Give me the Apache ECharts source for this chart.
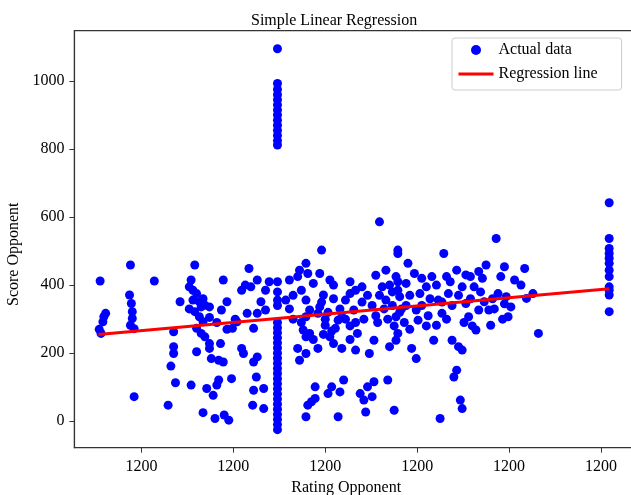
<!DOCTYPE html>
<html>
<head>
<meta charset="utf-8">
<script src="https://cdn.jsdelivr.net/npm/echarts@6/dist/echarts.min.js"></script>
<style>html,body{margin:0;padding:0;background:#fff}#c{width:631px;height:495px}</style>
</head>
<body>
<div id="c"></div>
<script>
// Tick positions (x in tick units) and their printed labels
const xTickValues = [0, 1, 2, 3, 4, 5];
const xTickLabels = ['1200', '1200', '1200', '1200', '1200', '1200'];
const yTickValues = [0, 200, 400, 600, 800, 1000];

// Scatter points [rating (tick units), score]
const leftPts = [
  [-0.45,412],[-0.46,270],[-0.44,258],[-0.42,292],[-0.41,307],[-0.39,317],
  [-0.12,459],[-0.13,371],[-0.11,346],[-0.10,322],[-0.10,302],[-0.12,282],[-0.08,272],[-0.08,72],
  [0.14,412],[0.29,47],[0.35,263],[0.35,219],[0.35,199],[0.32,162],[0.37,113],[0.42,351]
];
const clusterPts = [
  [0.54,415],[0.52,395],[0.58,459],[0.56,385],[0.60,375],[0.56,356],[0.63,351],[0.65,336],[0.69,341],
  [0.74,336],[0.58,322],[0.63,307],[0.67,292],[0.60,273],[0.65,258],[0.69,248],[0.74,228],[0.60,204],
  [0.54,106],[0.67,25],[0.71,96],[0.74,214],[0.76,184],[0.78,76],[0.80,8],[0.82,106],[0.84,121],
  [0.86,228],[0.84,179],[0.89,174],[0.87,327],[0.89,415],[0.93,351],[0.90,18],[0.95,3],[0.98,125],
  [0.99,273],[1.04,292],[1.09,385],[1.13,400],[1.17,449],[1.19,395],[1.09,214],[1.11,199],[1.15,317],
  [1.22,273],[1.26,415],[1.22,174],[1.26,189],[1.25,130],[1.22,91],[1.21,47],[1.33,37],[1.33,96],
  [1.30,351],[1.35,385],[1.39,410],[1.26,317],[1.35,327],[0.52,330],[0.67,360],[0.74,305],[0.82,290],
  [0.93,270],[1.02,300]
];
const columnX = 1.48;
const columnY = [-25,-10,5,20,35,50,65,80,95,110,125,140,155,170,185,200,215,230,245,260,275,290,
  340,356,380,410,812,825,840,855,870,885,900,915,930,945,960,975,993,1095];
const middlePts = [
  [1.57,356],[1.61,415],[1.70,425],[1.72,444],[1.79,464],[1.81,434],[1.74,385],[1.79,356],[1.83,327],
  [1.87,405],[1.79,307],[1.76,268],[1.83,258],[1.79,248],[1.70,214],[1.72,179],[1.79,199],[1.79,13],
  [1.81,47],[1.85,57],[1.89,67],[1.89,101],[1.92,317],[1.94,336],[1.92,214],[1.96,503],[2.00,282],
  [1.98,371],[1.94,434],[2.05,415],[2.09,400],[2.14,297],[2.05,248],[2.03,81],[2.07,101],[2.14,13],
  [2.16,86],[2.20,121],[2.18,214],[2.09,228],[2.11,273],[2.18,307],[2.22,356],[2.27,375],[2.33,385],
  [2.31,327],[2.33,209],[2.35,258],[2.38,81],[2.42,62],[2.44,27],[2.46,101],[2.48,199],[2.51,72],
  [2.53,116],[2.53,238],[2.55,429],[2.59,586],[2.62,395],[2.66,356],[2.68,121],[2.70,219],[2.66,444],
  [2.75,32],[2.79,503],[2.79,493],[2.77,425],[2.79,385],[2.77,307],[2.79,258],[2.77,238],[2.81,366],
  [1.61,330],[1.65,300],[1.65,370],[1.96,350],[2.03,320],[2.09,360],[2.16,330],[2.22,300],[2.27,280],
  [2.40,350],[2.42,300],[2.46,370],[2.51,340],[2.55,310],[2.59,370],[2.64,330],[2.68,300],[2.73,380],
  [2.73,340],[2.75,280],[2.81,320],[2.79,410],[2.70,400],[2.27,410],[2.40,395],[2.57,290],[2.33,290],
  [1.74,290],[1.87,240],[1.98,255],[2.00,300],[2.07,265],[2.27,240]
];
const rightPts = [
  [2.88,405],[2.90,464],[2.97,434],[2.94,214],[2.99,184],[2.99,327],[3.01,297],[3.03,375],[3.10,395],
  [3.16,425],[3.18,238],[3.21,282],[3.23,356],[3.27,317],[3.25,8],[3.29,493],[3.32,425],[3.34,375],
  [3.38,238],[3.40,130],[3.43,150],[3.45,219],[3.47,62],[3.49,37],[3.49,209],[3.43,444],[3.49,395],
  [3.53,346],[3.56,307],[3.58,425],[3.62,395],[3.67,327],[3.64,268],[3.71,420],[3.75,459],[3.73,351],
  [3.78,327],[3.80,282],[3.86,537],[3.88,375],[3.91,425],[3.95,454],[3.99,307],[4.02,336],[3.97,366],
  [4.06,415],[4.13,400],[4.17,449],[4.19,361],[4.26,375],[4.32,258],
  [2.88,340],[2.92,370],[3.05,340],[3.12,310],[3.14,360],[3.21,400],[3.27,350],[3.32,300],[3.36,410],
  [3.38,340],[3.45,370],[3.51,290],[3.58,360],[3.60,280],[3.69,380],[3.82,360],[3.84,330],[3.93,300],
  [3.95,345],[3.53,430],[3.67,440],[3.10,280],[3.05,420],[2.83,330],[2.86,290],[2.92,270]
];
const edgeX = 5.09;
const edgeY = [642,537,508,493,479,464,444,425,395,385,371,322];

// Regression line end points [rating, score]
const regX = [-0.47, 5.09];
const regY = [255, 389];

const scatterData = []
  .concat(leftPts, clusterPts, middlePts, rightPts)
  .concat(columnY.map(y => [columnX, y]))
  .concat(edgeY.map(y => [edgeX, y]));
const lineData = regX.map((x, i) => [x, regY[i]]);

const FONT = 'Liberation Serif';
const chart = echarts.init(document.getElementById('c'), null, {renderer: 'canvas'});
chart.setOption({
  animation: false,
  backgroundColor: '#fff',
  title: {
    text: 'Simple Linear Regression',
    left: 246, top: 8,
    textStyle: {fontFamily: FONT, fontSize: 16, fontWeight: 'normal', color: '#000'}
  },
  legend: {
    orient: 'vertical',
    left: 452, top: 38,
    padding: [4, 24, 8, 5],
    itemGap: 8,
    itemWidth: 35, itemHeight: 10,
    borderColor: '#cccccc', borderWidth: 1, borderRadius: 3,
    backgroundColor: 'rgba(255,255,255,0.8)',
    textStyle: {fontFamily: FONT, fontSize: 16, color: '#000'},
    data: [
      {name: 'Actual data', icon: 'circle'},
      {name: 'Regression line',
       itemStyle: {color: 'rgba(0,0,0,0)', borderWidth: 0, opacity: 0},
       lineStyle: {width: 3, color: '#ff0000'}}
    ]
  },
  grid: {
    left: 74.4, top: 30.7, right: -3, bottom: 47.3,
    outerBoundsMode: 'none', containLabel: false,
    show: true, borderColor: '#333', borderWidth: 1.2, backgroundColor: 'transparent'
  },
  xAxis: {
    type: 'value',
    min: -0.73, max: 5.36,
    name: 'Rating Opponent', nameLocation: 'middle', nameGap: 30,
    nameTextStyle: {fontFamily: FONT, fontSize: 16, color: '#000', padding: [0, 16, 0, 0]},
    axisLine: {show: true, onZero: false, lineStyle: {color: '#333', width: 1.2}},
    axisTick: {show: true, inside: false, length: 5, lineStyle: {color: '#333'}, customValues: xTickValues},
    axisLabel: {
      margin: 11, fontFamily: FONT, fontSize: 16, color: '#000',
      customValues: xTickValues,
      formatter: v => { const i = xTickValues.indexOf(Math.round(v)); return i >= 0 ? xTickLabels[i] : ''; }
    },
    splitLine: {show: false}
  },
  yAxis: {
    type: 'value',
    min: -78, max: 1148,
    name: 'Score Opponent', nameLocation: 'middle', nameGap: 44,
    nameTextStyle: {fontFamily: FONT, fontSize: 16, color: '#000', padding: [0, 30, 0, 0]},
    axisLine: {show: true, onZero: false, lineStyle: {color: '#333', width: 1.2}},
    axisTick: {show: true, inside: false, length: 5, lineStyle: {color: '#333'}, customValues: yTickValues},
    axisLabel: {
      margin: 10, fontFamily: FONT, fontSize: 16, color: '#000', customValues: yTickValues,
      formatter: v => String(v)
    },
    splitLine: {show: false}
  },
  series: [
    {
      name: 'Actual data', type: 'scatter', symbol: 'circle', symbolSize: 9,
      itemStyle: {color: '#0000ff', opacity: 1},
      data: scatterData, z: 2
    },
    {
      name: 'Regression line', type: 'line', symbol: 'none',
      lineStyle: {color: '#ff0000', width: 3},
      itemStyle: {color: '#ff0000'},
      data: lineData, z: 3
    }
  ]
});
</script>
</body>
</html>
